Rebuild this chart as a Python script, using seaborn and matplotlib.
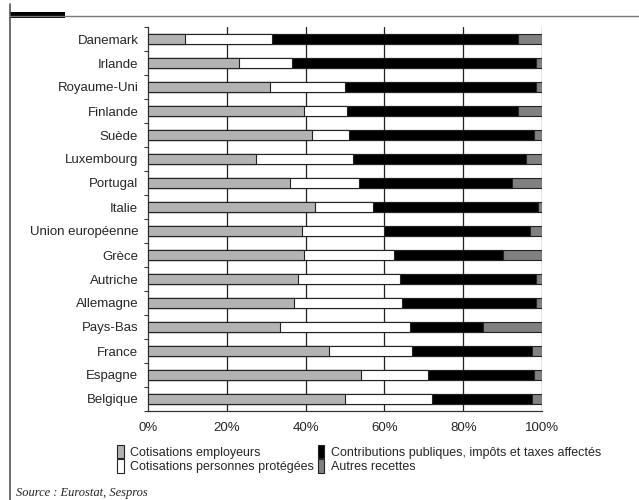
import matplotlib
matplotlib.use("Agg")
import matplotlib.pyplot as plt
import seaborn as sns
import pandas as pd
import numpy as np
from matplotlib.patches import Patch, Rectangle
from matplotlib.lines import Line2D

countries = ["Danemark", "Irlande", "Royaume-Uni", "Finlande", "Suède", "Luxembourg",
             "Portugal", "Italie", "Union européenne", "Grèce", "Autriche", "Allemagne",
             "Pays-Bas", "France", "Espagne", "Belgique"]
employeurs = [9.5, 23, 31, 39.5, 41.5, 27.5, 36, 42.5, 39, 39.5, 38, 37, 33.5, 46, 54, 50]
personnes = [22, 13.5, 19, 11, 9.5, 24.5, 17.5, 14.5, 21, 23, 26, 27.5, 33, 21, 17, 22]
contributions = [62.5, 62, 48.5, 43.5, 47, 44, 39, 42, 37, 27.5, 34.5, 34, 18.5, 30.5, 27, 25.5]
autres = [6, 1.5, 1.5, 6, 2, 4, 7.5, 1, 3, 10, 1.5, 1.5, 15, 2.5, 2, 2.5]
xticks = [0, 20, 40, 60, 80, 100]
xticklabels = ["0%", "20%", "40%", "60%", "80%", "100%"]
legend_labels = ["Cotisations employeurs", "Cotisations personnes protégées",
                 "Contributions publiques, impôts et taxes affectés", "Autres recettes"]

sns.set_theme(style="white")
plt.rcParams["font.family"] = ["Liberation Sans", "DejaVu Sans"]

df = pd.DataFrame({"pays": countries, "emp": employeurs, "pers": personnes,
                   "contrib": contributions, "autres": autres})
df["c1"] = df["emp"]
df["c2"] = df["c1"] + df["pers"]
df["c3"] = df["c2"] + df["contrib"]
df["c4"] = df["c3"] + df["autres"]

col_emp = "#b3b3b3"
col_pers = "#ffffff"
col_contrib = "#000000"
col_autres = "#808080"

fig = plt.figure(figsize=(6.39, 5.0), dpi=100)
ax = fig.add_axes([148/639, 1-411/500, (542-148)/639, (411-27)/500])

bw = 0.42
for col, c in [("c4", col_autres), ("c3", col_contrib), ("c2", col_pers), ("c1", col_emp)]:
    sns.barplot(data=df, x=col, y="pays", order=countries, orient="h", color=c,
                width=bw, edgecolor="#222222", linewidth=0.8, saturation=1, ax=ax,
                errorbar=None, zorder=3)

ax.set_xlim(0, 100)
ax.set_ylim(15.457, -0.457)
ax.set_xlabel("")
ax.set_ylabel("")
ax.set_xticks(xticks)
ax.set_xticklabels(xticklabels, fontsize=9.5)
ax.tick_params(axis="x", length=3, width=0.8, color="#333333", pad=5, direction="out")
ax.set_yticks(range(len(countries)))
ax.set_yticklabels(countries, fontsize=9.5)
ax.tick_params(axis="y", length=0, pad=7)
ax.set_yticks(np.arange(-0.5, len(countries), 1.0), minor=True)
ax.tick_params(axis="y", which="minor", length=3, width=0.8, color="#333333", left=True)
for x in xticks[1:]:
    ax.axvline(x, color="#222222", linewidth=0.9, zorder=1)
for s in ["top", "right"]:
    ax.spines[s].set_visible(False)
for s in ["left", "bottom"]:
    ax.spines[s].set_color("#333333")
    ax.spines[s].set_linewidth(0.9)

handles = [Patch(facecolor=col_emp, edgecolor="#222222", linewidth=0.8),
           Patch(facecolor=col_pers, edgecolor="#222222", linewidth=0.8),
           Patch(facecolor=col_contrib, edgecolor="#222222", linewidth=0.8),
           Patch(facecolor=col_autres, edgecolor="#222222", linewidth=0.8)]
fig.legend(handles, legend_labels, ncol=2, loc="upper left",
           bbox_to_anchor=(108/639, 1-436/500), frameon=False, fontsize=9,
           handlelength=0.55, handleheight=1.3, handletextpad=0.5,
           columnspacing=0.3, labelspacing=0.05, borderpad=0.2)

# frame decorations
fig.add_artist(Line2D([10/639, 10/639], [0, 1-4/500], transform=fig.transFigure,
                      color="#555555", linewidth=1.2))
fig.add_artist(Line2D([10/639, 1], [1-16/500, 1-16/500], transform=fig.transFigure,
                      color="#777777", linewidth=1.0))
fig.add_artist(Rectangle((10/639, 1-17.5/500), 55/639, 5/500, transform=fig.transFigure,
                         facecolor="black", edgecolor="none"))
fig.text(16/639, 1-496/500, "Source : Eurostat, Sespros", fontsize=9, style="italic",
         family=["Liberation Serif", "DejaVu Serif"], va="baseline", ha="left", color="#222222")

fig.savefig("out.png", dpi=100)
